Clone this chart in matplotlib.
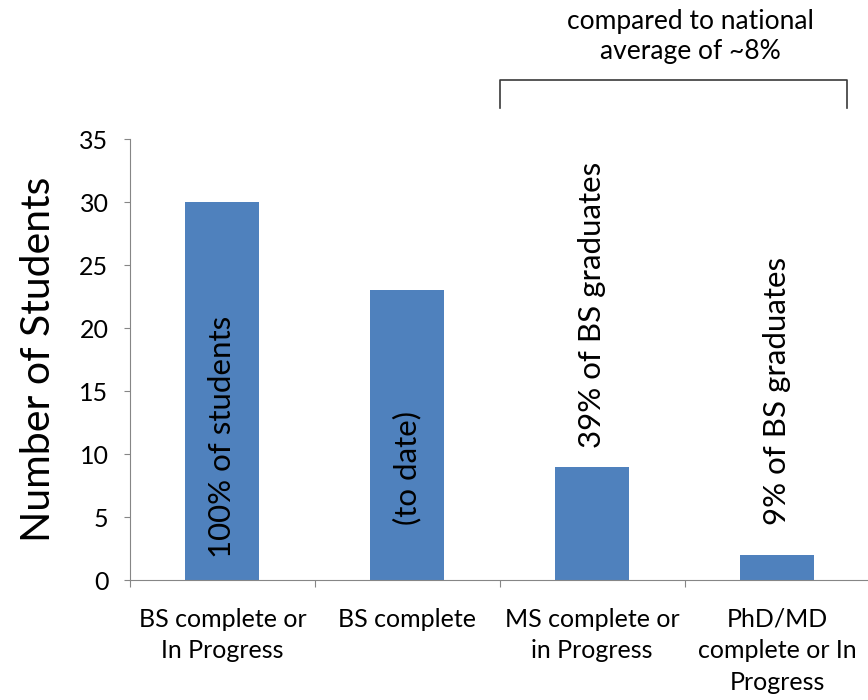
import matplotlib
matplotlib.use('Agg')
import matplotlib.pyplot as plt

# data
categories = ['BS complete or\nIn Progress', 'BS complete', 'MS complete or\nin Progress',
              'PhD/MD\ncomplete or In\nProgress']
students = [30, 23, 9, 2]
bar_notes = ['100% of students', '(to date)', '39% of BS graduates', '9% of BS graduates']
note_bottoms = [1.75, 4.4, 10.5, 4.4]
yticks = [0, 5, 10, 15, 20, 25, 30, 35]
bracket_text = 'compared to national\naverage of ~8%'

plt.rcParams['font.family'] = ['Lato', 'DejaVu Sans']
bar_color = '#4F81BD'
axis_color = '#868686'

fig = plt.figure(figsize=(8.68, 7.0), dpi=100)
ax = fig.add_axes([0.1498, 0.1714, 0.852, 0.6300])

x = list(range(len(categories)))
ax.bar(x, students, width=0.4, color=bar_color, zorder=2)

ax.set_xlim(-0.5, 3.5)
ax.set_ylim(0, 35)
ax.set_yticks(yticks)
ax.tick_params(axis='y', direction='out', length=4.5, color=axis_color, labelsize=18, pad=11)

# category separators as major ticks, labels as minor ticks
ax.set_xticks([-0.5, 0.5, 1.5, 2.5, 3.5])
ax.set_xticklabels([])
ax.set_xticks(x, minor=True)
ax.set_xticklabels(categories, minor=True, fontsize=18, linespacing=1.45)
ax.tick_params(axis='x', which='major', direction='out', length=5, color=axis_color)
ax.tick_params(axis='x', which='minor', length=0, pad=20)

for side in ['top', 'right']:
    ax.spines[side].set_visible(False)
for side in ['left', 'bottom']:
    ax.spines[side].set_color(axis_color)

ax.set_ylabel('Number of Students', fontsize=29.5, labelpad=16)

for xi, note, yb in zip(x, bar_notes, note_bottoms):
    ax.text(xi, yb, note, rotation=90, ha='center', va='bottom', fontsize=22.5, color='black', zorder=3)

# bracket over the graduate bars
ax.plot([1.5, 1.5, 3.38, 3.38], [37.5, 39.7, 39.7, 37.5], color='#3a3a3a', lw=1.2, clip_on=False)
ax.text(2.53, 43.1, bracket_text, ha='center', va='center', fontsize=19, linespacing=1.25)

fig.savefig('out.png', dpi=100)
